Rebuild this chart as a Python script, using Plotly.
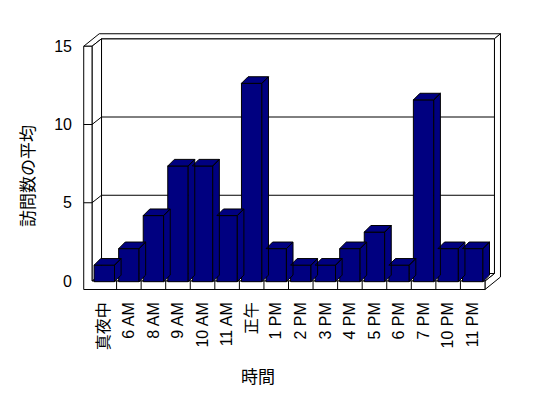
import plotly.graph_objects as go

# ---- data ----
categories = ["真夜中", "6 AM", "8 AM", "9 AM", "10 AM", "11 AM", "正午", "1 PM",
              "2 PM", "3 PM", "4 PM", "5 PM", "6 PM", "7 PM", "10 PM", "11 PM"]
avg_visits = [1, 2, 4, 7, 7, 4, 12, 2, 1, 1, 2, 3, 1, 11, 2, 2]
y_ticks = [0, 5, 10, 15]
x_title = "時間"
y_title = "訪問数の平均"

# ---- geometry (pixel scale helpers) ----
W, H = 548, 398
L, R, T, B = 80, 38, 28, 104
plot_w = W - L - R
plot_h = H - T - B
XU = 24.56          # px per category
YU = 15.65          # px per y unit (front plane)
x_range = [(L - 104.3) / XU, (W - R - 104.3) / XU]
y_range = [(281 - (T + plot_h)) / YU, (281 - T) / YU]
BU = 16.53          # px per unit for bars (perspective)
y2_range = [(281.7 - (T + plot_h)) / BU, (281.7 - T) / BU]

n = len(categories)
XL1 = -0.5
XL0 = -0.5 - 8.3 / XU
XR = n - 0.5
YT = 15
YF0 = 0
YF1 = -8.5 / YU
D1 = (9.5 / XU, 7.5 / YU)
DT = ((9.5 + 6) / XU, (7.5 + 5) / YU)

def path(pts):
    return "M " + " L ".join(f"{x},{y}" for x, y in pts) + " Z"

line = dict(color="black", width=1)
shapes = []
def poly(pts):
    shapes.append(dict(type="path", path=path(pts), xref="x", yref="y",
                       fillcolor="white", line=line, layer="below"))
def seg(p, q):
    shapes.append(dict(type="line", x0=p[0], y0=p[1], x1=q[0], y1=q[1],
                       xref="x", yref="y", line=line, layer="below"))

# back wall inner face
poly([(XL1 + D1[0], YF0 + D1[1]), (XR + D1[0], YF0 + D1[1]),
      (XR + D1[0], YT + D1[1]), (XL1 + D1[0], YT + D1[1])])
# combined top (left wall + back wall)
poly([(XL0, YT), (XL1, YT), (XL1 + D1[0], YT + D1[1]), (XR + D1[0], YT + D1[1]),
      (XR + DT[0], YT + DT[1]), (XL0 + DT[0], YT + DT[1])])
# right side (back wall edge + floor side)
poly([(XR, YF0), (XR, YF1), (XR + DT[0], YF1 + DT[1]), (XR + DT[0], YT + DT[1]),
      (XR + D1[0], YT + D1[1]), (XR + D1[0], YF0 + D1[1])])
# floor top
poly([(XL1, YF0), (XR, YF0), (XR + D1[0], YF0 + D1[1]), (XL1 + D1[0], YF0 + D1[1])])
# left wall inner face
poly([(XL1, YF0), (XL1, YT), (XL1 + D1[0], YT + D1[1]), (XL1 + D1[0], YF0 + D1[1])])
# front L-shape (left wall front + floor front)
poly([(XL0, YF1), (XR, YF1), (XR, YF0), (XL1, YF0), (XL1, YT), (XL0, YT)])

for v in y_ticks[1:-1]:
    seg((XL0, v), (XL1, v))
    seg((XL1, v), (XL1 + D1[0], v + D1[1]))
    seg((XL1 + D1[0], v + D1[1]), (XR + D1[0], v + D1[1]))
for i in range(n - 1):
    seg((i + 0.5, YF1), (i + 0.5, YF0))

# ---- bars ----
NAVY = "#000080"
BW = 20.4 / XU
bdx, bdy = 6.6 / XU, 6.6 / BU
fx, fy = [], []
for i, v in enumerate(avg_visits):
    x0, x1 = i - BW / 2, i + BW / 2
    fx += [x0, x0 + bdx, x1 + bdx, x1, x0, None]
    fy += [v, v + bdy, v + bdy, v, v, None]
    fx += [x1, x1, x1 + bdx, x1 + bdx, x1, None]
    fy += [0, v, v + bdy, bdy, 0, None]

fig = go.Figure()
fig.add_trace(go.Bar(x=list(range(n)), y=avg_visits, width=BW, yaxis="y2",
                     marker=dict(color=NAVY, line=dict(color="black", width=1)),
                     hoverinfo="skip"))
fig.add_trace(go.Scatter(x=fx, y=fy, yaxis="y2", mode="lines", fill="toself",
                         fillcolor=NAVY, line=dict(color="black", width=1),
                         hoverinfo="skip"))

FONT = "Liberation Sans, Arial, Noto Sans CJK JP, sans-serif"
fig.update_layout(
    width=W, height=H, margin=dict(l=L, r=R, t=T, b=B, pad=0),
    paper_bgcolor="white", plot_bgcolor="white", showlegend=False,
    font=dict(family=FONT, size=16, color="black"),
    shapes=shapes,
    xaxis=dict(range=x_range, tickvals=list(range(n)), ticktext=categories,
               tickangle=-90, showgrid=False, zeroline=False, showline=False,
               ticks="", tickfont=dict(size=16), ticklabelstandoff=4),
    yaxis=dict(range=y_range, tickvals=y_ticks, showgrid=False, zeroline=False,
               showline=False, ticks="", tickfont=dict(size=16),
               ticklabelstandoff=7),
    yaxis2=dict(range=y2_range, overlaying="y", visible=False),
    annotations=[
        dict(text=x_title, xref="paper", yref="paper", x=(258 - L) / plot_w,
             y=(T + plot_h - 377) / plot_h, showarrow=False, xanchor="center",
             yanchor="middle", font=dict(size=17, family=FONT)),
        dict(text=y_title, xref="paper", yref="paper", x=(28 - L) / plot_w,
             y=(T + plot_h - 176) / plot_h, showarrow=False, xanchor="center",
             yanchor="middle", textangle=-90, font=dict(size=17, family=FONT)),
    ],
)
fig.write_html("out.html")
